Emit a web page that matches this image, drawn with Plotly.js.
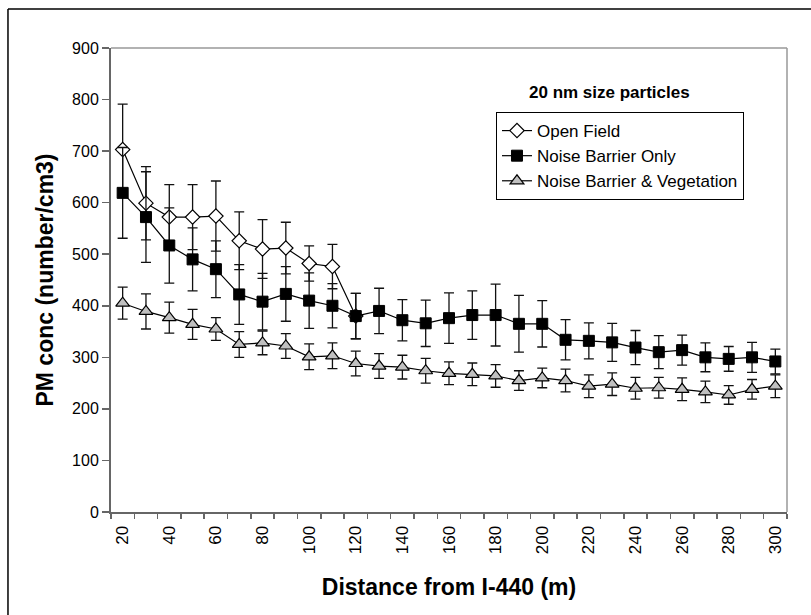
<!DOCTYPE html>
<html>
<head>
<meta charset="utf-8">
<script src="https://cdn.plot.ly/plotly-3.0.1.min.js"></script>
<style>html,body{margin:0;padding:0;background:#fff;}#chart{width:811px;height:615px;}</style>
</head>
<body>
<div id="chart"></div>
<script>
// Distance from I-440 (m)
const distance = [20,30,40,50,60,70,80,90,100,110,120,130,140,150,160,170,180,190,200,210,220,230,240,250,260,270,280,290,300];
const xTickLabels = [20,40,60,80,100,120,140,160,180,200,220,240,260,280,300];

// Open Field (measured 20..120 m)
const openFieldDist = [20,30,40,50,60,70,80,90,100,110,120];
const openField    = [703,599,572,572,574,526,510,512,482,476,380];
const openFieldErr = [88,71,63,63,68,56,57,50,34,43,44];

// Noise Barrier Only
const noiseBarrier    = [619,572,517,490,471,422,408,423,410,400,380,390,372,366,376,382,382,365,365,334,332,329,319,310,314,300,297,300,292];
const noiseBarrierErr = [88,88,73,61,55,58,55,53,54,43,44,44,40,45,49,47,60,55,45,39,35,37,33,32,29,28,24,29,24];

// Noise Barrier & Vegetation
const vegetation    = [405,389,377,364,355,325,328,322,301,303,288,283,281,274,269,267,264,255,260,255,244,248,240,241,238,233,227,238,244];
const vegetationErr = [31,34,30,29,22,25,23,24,25,25,24,24,23,24,22,22,22,19,19,22,22,22,21,20,22,21,18,19,22];

const yTicks = [0,100,200,300,400,500,600,700,800,900];

const FONT = 'Liberation Sans, Arial, sans-serif';
function errBar(arr){ return {type:'data', array:arr, visible:true, color:'#111', thickness:1.3, width:5}; }

const traces = [
  {x: openFieldDist, y: openField, name:'Open Field', type:'scatter', mode:'lines+markers',
   line:{color:'#000', width:1.2},
   marker:{symbol:'diamond', size:11, color:'#fff', line:{color:'#000', width:1.2}},
   error_y: errBar(openFieldErr)},
  {x: distance, y: noiseBarrier, name:'Noise Barrier Only', type:'scatter', mode:'lines+markers',
   line:{color:'#000', width:1.2},
   marker:{symbol:'square', size:11, color:'#000', line:{color:'#000', width:1}},
   error_y: errBar(noiseBarrierErr)},
  {x: distance, y: vegetation, name:'Noise Barrier & Vegetation', type:'scatter', mode:'lines+markers',
   line:{color:'#000', width:1.2},
   marker:{symbol:'triangle-up', size:12, color:'#c0c0c0', line:{color:'#000', width:1.2}},
   error_y: errBar(vegetationErr)}
];

const layout = {
  width:811, height:615,
  margin:{l:111, r:24, t:48, b:103},
  paper_bgcolor:'#fff', plot_bgcolor:'#fff',
  font:{family:FONT, color:'#000', size:16},
  showlegend:true,
  legend:{x:0.5695, y:0.862, xanchor:'left', yanchor:'top',
          bordercolor:'#000', borderwidth:1, bgcolor:'#fff',
          font:{family:FONT, size:17, color:'#000'}},
  xaxis:{range:[15,305], showgrid:false, zeroline:false,
         tickvals:xTickLabels, ticktext:xTickLabels.map(String), tickangle:-90,
         ticks:'', tickfont:{size:17, family:FONT}, ticklabelstandoff:5,
         minor:{tick0:15, dtick:10, ticks:'outside', ticklen:5, tickcolor:'#666', tickwidth:1.5},
         showline:true, linecolor:'#666', linewidth:2,
         title:{text:'Distance from I-440 (m)', font:{size:23, family:FONT, weight:'bold'}, standoff:26}},
  yaxis:{range:[0,900], tickvals:yTicks, showgrid:false, zeroline:false,
         ticks:'outside', ticklen:7, tickcolor:'#666', tickwidth:1.5,
         showline:true, linecolor:'#666', linewidth:2, tickfont:{size:16, family:FONT},
         title:{text:'PM conc (number/cm3)', font:{size:23, family:FONT, weight:'bold'}, standoff:12}},
  shapes:[
    {type:'line', xref:'paper', yref:'paper', x0:0, x1:1, y0:1, y1:1, line:{color:'#999', width:1.5}},
    {type:'line', xref:'paper', yref:'paper', x0:1, x1:1, y0:0, y1:1, line:{color:'#999', width:1.5}},
    {type:'line', xref:'paper', yref:'paper', x0:-0.1524, x1:2, y0:1.084, y1:1.084, line:{color:'#000', width:1.5}},
    {type:'line', xref:'paper', yref:'paper', x0:-0.1524, x1:-0.1524, y0:-1, y1:1.084, line:{color:'#000', width:1.5}}
  ],
  annotations:[
    {text:'<b>20 nm size particles</b>', xref:'paper', yref:'paper', x:0.737, y:0.904,
     xanchor:'center', yanchor:'middle', showarrow:false, font:{size:17, family:FONT, color:'#000'}}
  ]
};

Plotly.newPlot('chart', traces, layout, {displayModeBar:false, staticPlot:true});
</script>
</body>
</html>
